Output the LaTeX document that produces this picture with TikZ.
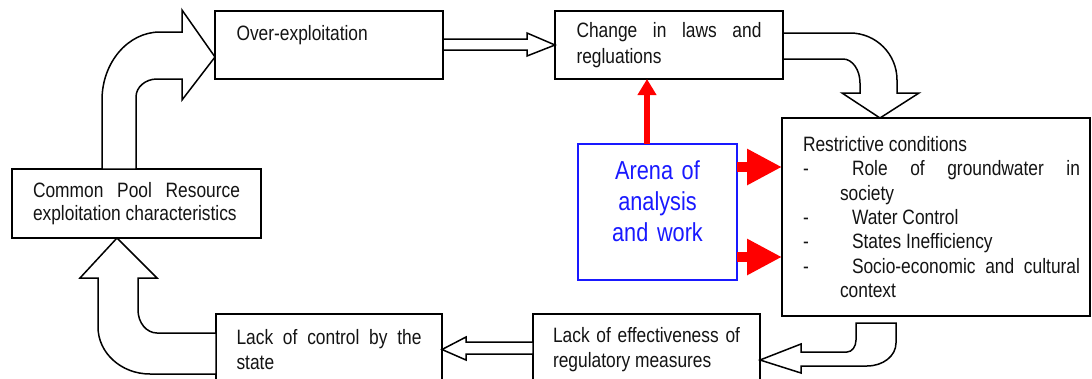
\documentclass[tikz,border=0pt]{standalone}
\usepackage{fontspec}
\setmainfont{Liberation Sans}[FakeStretch=0.835]
\usetikzlibrary{arrows.meta}
\definecolor{arenablue}{RGB}{25,25,255}
\definecolor{txt}{RGB}{20,20,20}
\begin{document}
\begin{tikzpicture}[x=1pt,y=-1pt,
  box/.style={draw, line width=1.6pt, fill=white, anchor=north west, outer sep=0pt,
    inner ysep=0pt, align=justify, text=txt, font=\fontsize{20.8}{24.5}\selectfont},
  barrow/.style={draw, line width=1.5pt, fill=white, line join=miter},
  redup/.style={draw=red, line width=5.5pt, -{Triangle[length=16pt,width=18pt]}},
  redside/.style={draw=red, line width=10pt, -{Triangle[length=35pt,width=34pt]}},
]
\useasboundingbox (0,0) rectangle (1092,378);
\clip (0,0) rectangle (1092,378);

% boxes
\node[box, minimum width=228pt, minimum height=68pt, text width=185pt, inner xsep=21.5pt]
  (over) at (215,11) {Over-exploitation\newline\mbox{}};
\node[box, minimum width=228pt, minimum height=68pt, text width=185pt, inner xsep=21.5pt, font=\fontsize{20.8}{25.5}\selectfont]
  (change) at (555,11) {Change in laws and\linebreak regluations};
\node[box, minimum width=249pt, minimum height=69pt, text width=207pt, inner xsep=21pt, font=\fontsize{20.8}{22.5}\selectfont]
  (pool) at (12,169) {Common Pool Resource\linebreak exploitation characteristics};
\node[box, minimum width=226pt, minimum height=71pt, text width=185pt, inner xsep=20.5pt]
  (ctrl) at (216,314) {Lack of control by the\linebreak state};
\node[box, minimum width=227pt, minimum height=71pt, text width=187pt, inner xsep=20pt]
  (eff) at (533,314) {Lack of effectiveness of\linebreak regulatory measures};
\node[box, minimum width=308pt, minimum height=198pt, text width=288pt, inner xsep=10pt, font=\fontsize{20.8}{24.3}\selectfont]
  (rbox) at (782,118) {\parindent=0pt\leftskip=11pt
  Restrictive conditions\par
  \hangindent=37pt\hangafter=1 \makebox[49pt][l]{-}Role of groundwater in\linebreak society\par
  \makebox[49pt][l]{-}Water Control\par
  \makebox[49pt][l]{-}States Inefficiency\par
  \hangindent=37pt\hangafter=1 \makebox[49pt][l]{-}Socio-economic and cultural\linebreak context\par};
\node[box, draw=arenablue, text=arenablue, align=center, minimum width=159pt, minimum height=136pt,
  text width=140pt, inner xsep=9.5pt, font=\fontsize{26}{31}\selectfont]
  (arena) at (578,144) {Arena of\\analysis\\and work\\[-9pt]\mbox{}};

% block arrows
\draw[barrow] (pool.north west -| 102,0) -- (102,100) .. controls (102,62.5) and (128,32) .. (160,32)
  -- (182,32) -- (182,10) -- ([yshift=-12pt]over.west) -- (182,100) -- (182,79) -- (157,79)
  .. controls (145.4,79) and (136,87.1) .. (136,97) -- (pool.north west -| 136,0) -- cycle;
\draw[barrow] (over.east |- 0,39) -- (527,39) -- (527,33) -- (change.west) -- (527,56)
  -- (527,50) -- (over.east |- 0,50) -- cycle;
\draw[barrow] (change.east |- 0,33) -- (850,33) .. controls (876,33) and (897,54) .. (897,80)
  -- (897,93) -- (919,93) -- (rbox.north west -| 880,0) -- (842,93) -- (860,93) -- (860,83)
  .. controls (860,69.8) and (852.4,59) .. (843,59) -- (change.east |- 0,59) -- cycle;
\draw[barrow] (856,323) -- (856,340) .. controls (856,346.6) and (852,352) .. (847,352)
  -- (801,352) -- (801,344) -- (eff.east |- 0,360) -- (801,373) -- (801,366) -- (867,366)
  .. controls (883,366) and (896,356) .. (896,343) -- (896,323) -- cycle;
\draw[barrow] (ctrl.west |- 0,333) -- (157,333) .. controls (146.5,333) and (138,322.7) .. (138,310)
  -- (138,278) -- (157,278) -- (pool.south west -| 117,0) -- (80,278) -- (98,278) -- (98,327)
  .. controls (98,353) and (121.3,374) .. (150,374) -- (ctrl.west |- 0,374) -- cycle;
\draw[barrow] (eff.west |- 0,342) -- (466,342) -- (466,337) -- (ctrl.east) -- (466,360)
  -- (466,354) -- (eff.west |- 0,354) -- cycle;

% red arrows
\draw[redup] (arena.north -| 647,0) -- (change.south -| 647,0);
\draw[redside] ([yshift=45pt]arena.east) -- ([yshift=45pt]arena.east -| rbox.west);
\draw[redside] ([yshift=-45pt]arena.east) -- ([yshift=-45pt]arena.east -| rbox.west);
\end{tikzpicture}
\end{document}
